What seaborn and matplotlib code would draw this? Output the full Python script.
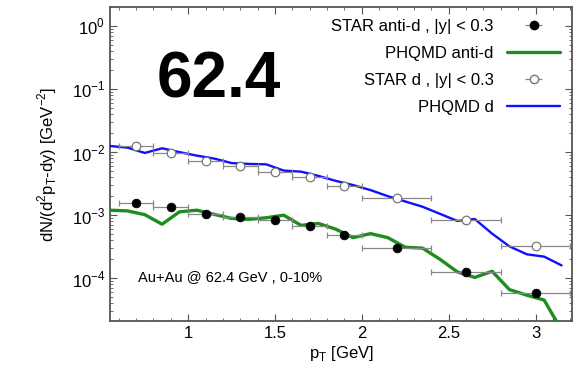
import numpy as np
import pandas as pd
import matplotlib
matplotlib.use('Agg')
import matplotlib.pyplot as plt
from matplotlib.lines import Line2D
from matplotlib.ticker import LogLocator, MultipleLocator, NullFormatter
import seaborn as sns

# STAR data points (centre, half bin width)
star_pt = [0.7, 0.9, 1.1, 1.3, 1.5, 1.7, 1.9, 2.2, 2.6, 3.0]
star_dpt = [0.1, 0.1, 0.1, 0.1, 0.1, 0.1, 0.1, 0.2, 0.2, 0.2]
star_d = [0.01245, 0.0097, 0.0072, 0.0061, 0.0049, 0.0041, 0.0029, 0.00188, 0.00085, 0.00033]
star_antid = [0.00157, 0.00135, 0.00104, 0.00092, 0.00083, 0.00068, 0.00049, 0.00030, 0.000126, 0.000058]

# PHQMD curves
phqmd_pt = [0.55, 0.65, 0.75, 0.85, 0.95, 1.05, 1.15, 1.25, 1.35, 1.45, 1.55, 1.65, 1.75, 1.85,
            1.95, 2.05, 2.15, 2.25, 2.35, 2.45, 2.55, 2.65, 2.75, 2.85, 2.95, 3.05, 3.15]
phqmd_d = [0.0125, 0.0118, 0.0097, 0.0115, 0.0100, 0.0088, 0.0079, 0.0067, 0.0065, 0.0064,
           0.0051, 0.0049, 0.0042, 0.0035, 0.0030, 0.0025, 0.0020, 0.00165, 0.00136, 0.00105,
           0.00081, 0.00087, 0.00051, 0.00032, 0.00024, 0.00022, 0.00016]
phqmd_antid = [0.00120, 0.00117, 0.00102, 0.00072, 0.00113, 0.00120, 0.00103, 0.00089, 0.00086,
               0.00091, 0.00100, 0.00069, 0.00074, 0.00060, 0.00044, 0.00051, 0.00044, 0.00031,
               0.00030, 0.00020, 0.000126, 0.000103, 0.000129, 0.000066, 0.000054, 0.000045, 0.000015]

sns.set_style('ticks')
plt.rcParams['font.family'] = ['Liberation Sans', 'DejaVu Sans']
plt.rcParams['mathtext.fontset'] = 'custom'
plt.rcParams['mathtext.rm'] = 'Liberation Sans'
plt.rcParams['text.color'] = 'black'
plt.rcParams['axes.labelcolor'] = 'black'

df = pd.DataFrame({'pt': phqmd_pt, 'd': phqmd_d, 'antid': phqmd_antid})

fig = plt.figure(figsize=(5.77, 3.74), dpi=100)
ax = fig.add_axes([0.1906, 0.1417, 0.8007, 0.8396])

green = '#1f8c1f'
blue = '#1010ff'
sns.lineplot(data=df, x='pt', y='antid', ax=ax, color=green, lw=2.4, zorder=3)
sns.lineplot(data=df, x='pt', y='d', ax=ax, color=blue, lw=1.7, zorder=3)

ax.errorbar(star_pt, star_antid, xerr=star_dpt, fmt='none', ecolor='#888888',
            elinewidth=0.9, capsize=2.5, capthick=0.9, zorder=4)
ax.errorbar(star_pt, star_d, xerr=star_dpt, fmt='none', ecolor='#888888',
            elinewidth=0.9, capsize=2.5, capthick=0.9, zorder=4)
sns.scatterplot(x=star_pt, y=star_antid, ax=ax, color='black', s=40,
                edgecolor='black', zorder=5)
sns.scatterplot(x=star_pt, y=star_d, ax=ax, facecolor='white', edgecolor='#777777', s=38,
                linewidth=0.9, zorder=5)

ax.set_yscale('log')
ax.set_xlim(0.55, 3.21)
ax.set_ylim(2.1e-5, 2.0)
ax.xaxis.set_minor_locator(MultipleLocator(0.1))
ax.set_xticks([1, 1.5, 2, 2.5, 3])
ax.set_xticklabels(['1', '1.5', '2', '2.5', '3'])
ax.yaxis.set_minor_locator(LogLocator(base=10, subs=np.arange(2, 10), numticks=20))
ax.yaxis.set_minor_formatter(NullFormatter())
ax.set_yticks([1e-4, 1e-3, 1e-2, 1e-1, 1])
ax.set_yticklabels([r'$10^{-4}$', r'$10^{-3}$', r'$10^{-2}$', r'$10^{-1}$', r'$10^{0}$'])

ax.tick_params(which='both', direction='in', top=True, right=True, colors='#555555',
               labelcolor='black', labelsize=12)
ax.tick_params(which='major', length=5, width=0.8)
ax.tick_params(which='minor', length=2.5, width=0.6)
for s in ax.spines.values():
    s.set_color('#555555')
    s.set_linewidth(1.3)

ax.set_xlabel(r'p$_\mathrm{T}$ [GeV]', fontsize=12, labelpad=2)
ax.set_ylabel(r'dN/(d$^2$p$_\mathrm{T}$-dy) [GeV$^{-2}$]', fontsize=12, labelpad=9)

ax.text(0.10, 0.713, '62.4', transform=ax.transAxes, fontsize=46, fontweight='bold',
        color='black')
ax.text(0.06, 0.125, 'Au+Au @ 62.4 GeV , 0-10%', transform=ax.transAxes, fontsize=10.5,
        color='black')

h1 = ax.errorbar([], [], xerr=[], fmt='o', color='black', ecolor='#888888', ms=6,
                 elinewidth=0.9, capsize=2.5)
h2 = Line2D([], [], color=green, lw=2.4)
h3 = ax.errorbar([], [], xerr=[], fmt='o', mfc='white', mec='#777777', ecolor='#888888',
                 ms=6, elinewidth=0.9, capsize=2.5)
h4 = Line2D([], [], color=blue, lw=1.7)
ax.legend([h1, h2, h3, h4],
          ['STAR anti-d , |y| < 0.3', 'PHQMD anti-d', 'STAR d , |y| < 0.3', 'PHQMD d'],
          loc='upper right', markerfirst=False, frameon=False, fontsize=12,
          handlelength=3.2, labelspacing=0.72, borderaxespad=0.3, handletextpad=0.8,
          labelcolor='black')

fig.savefig('out.png', dpi=100)
